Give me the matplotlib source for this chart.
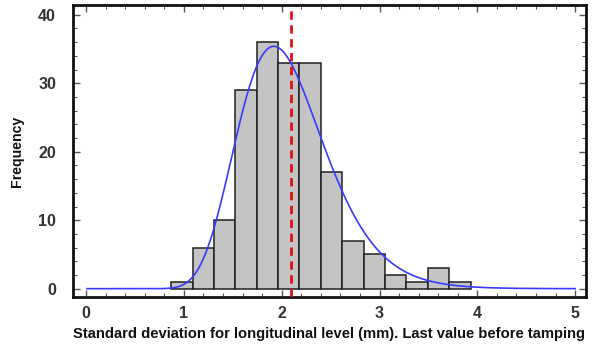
import numpy as np
import matplotlib
matplotlib.use("Agg")
import matplotlib.pyplot as plt
from matplotlib.ticker import MultipleLocator

# histogram
bin_start = 0.87
bin_width = 0.2186
counts = [1, 6, 10, 29, 36, 33, 33, 17, 7, 5, 2, 1, 3, 1]

# fitted lognormal curve and the dashed reference value
fit_mu = 0.705
fit_sigma = 0.23
last_value = 2.10

plt.rcParams['font.family'] = ['Liberation Sans', 'DejaVu Sans']

fig = plt.figure(figsize=(5.93, 3.44), dpi=100)
ax = fig.add_axes([0.1226, 0.1375, 0.8655, 0.8475])

edges = bin_start + bin_width * np.arange(len(counts) + 1)
ax.bar(edges[:-1], counts, width=bin_width, align='edge',
       color='#c4c4c4', edgecolor='#202020', linewidth=1.1, zorder=2)

# density scaled to counts
n_total = sum(counts)
x = np.linspace(0.01, 5.0, 500)
pdf = np.exp(-(np.log(x) - fit_mu) ** 2 / (2 * fit_sigma ** 2)) / (x * fit_sigma * np.sqrt(2 * np.pi))
ax.plot(x, pdf * n_total * bin_width, color='#3a3aff', linewidth=1.2, zorder=3)

ax.axvline(last_value, color='#e01010', linestyle=(0, (3, 2)), linewidth=2, zorder=4)

ax.set_xlim(-0.136, 5.11)
ax.set_ylim(-1.17, 41.4)
ax.xaxis.set_major_locator(MultipleLocator(1))
ax.xaxis.set_minor_locator(MultipleLocator(0.2))
ax.yaxis.set_major_locator(MultipleLocator(10))
ax.yaxis.set_minor_locator(MultipleLocator(2))
ax.tick_params(which='both', direction='in', top=True, right=True, color='#555555')
ax.tick_params(which='major', length=5, width=1)
ax.tick_params(which='minor', length=3, width=0.8)
ax.tick_params(axis='both', which='major', labelsize=11.5, labelcolor='#333333')
ax.tick_params(axis='x', which='major', pad=7)
ax.tick_params(axis='y', which='major', pad=12)
for lab in ax.get_xticklabels() + ax.get_yticklabels():
    lab.set_fontweight('bold')

for sp in ax.spines.values():
    sp.set_linewidth(2)
    sp.set_color('#111111')

ax.set_xlabel('Standard deviation for longitudinal level (mm). Last value before tamping',
              fontsize=10.6, fontweight='bold', color='#111111', labelpad=4)
ax.set_ylabel('Frequency', fontsize=10.2, fontweight='bold', color='#111111', labelpad=10)

fig.savefig('out.png', dpi=100)
